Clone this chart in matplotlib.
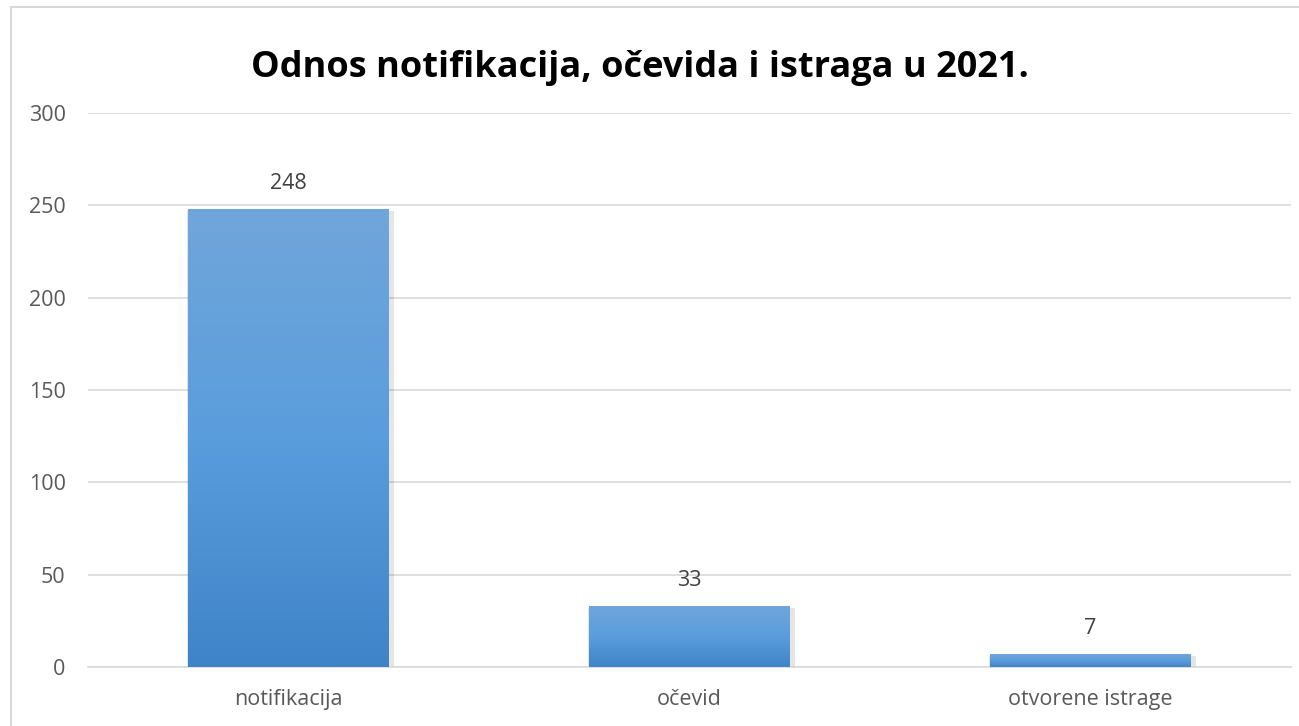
import numpy as np
import matplotlib.pyplot as plt
from matplotlib.colors import LinearSegmentedColormap

categories = ['notifikacija', 'očevid', 'otvorene istrage']
values = [248, 33, 7]
yticks = [0, 50, 100, 150, 200, 250, 300]

plt.rcParams['font.family'] = ['Open Sans', 'DejaVu Sans']

fig = plt.figure(figsize=(12.99, 7.26), dpi=100)
ax = fig.add_axes([0.0677, 0.0813, 0.9261, 0.7631])

# border of the chart area (only left and top visible in the reference)
fig.add_artist(plt.Line2D([11 / 1299, 11 / 1299], [0, 1 - 7 / 726], color='#d9d9d9', lw=1.5))
fig.add_artist(plt.Line2D([11 / 1299, 1], [1 - 7 / 726, 1 - 7 / 726], color='#d9d9d9', lw=1.5))

cmap = LinearSegmentedColormap.from_list('bar', ['#3f84c8', '#5a9ddd', '#70a6da'])
grad = np.linspace(0, 1, 256).reshape(-1, 1)
width = 0.5
x = np.arange(len(categories))

for xi, v in zip(x, values):
    # soft shadow
    ax.bar(xi + 0.004, v, width + 0.016, bottom=-1.2, color='#000000', alpha=0.10, zorder=2)
    ax.imshow(grad, cmap=cmap, aspect='auto', origin='lower',
              extent=(xi - width / 2, xi + width / 2, 0, v), zorder=3)
    ax.text(xi, v + 8, str(v), ha='center', va='bottom', fontsize=15.5, color='#404040')

ax.set_xlim(-0.5, len(categories) - 0.5)
ax.set_ylim(0, 300)
ax.set_yticks(yticks)
ax.set_xticks(x)
ax.set_xticklabels(categories)
ax.tick_params(axis='both', length=0, labelsize=15.5, labelcolor='#595959')
ax.tick_params(axis='y', pad=16)
ax.tick_params(axis='x', pad=16)
ax.grid(axis='y', color='#d9d9d9', lw=1.2, zorder=0)
ax.set_axisbelow(True)
for s in ['top', 'right', 'left']:
    ax.spines[s].set_visible(False)
ax.spines['bottom'].set_color('#d9d9d9')
ax.spines['bottom'].set_linewidth(1.2)

fig.text(0.493, 0.906, 'Odnos notifikacija, očevida i istraga u 2021.',
         ha='center', va='center', fontsize=26, fontweight='bold', color='#000000')

fig.savefig('out.png', dpi=100)
